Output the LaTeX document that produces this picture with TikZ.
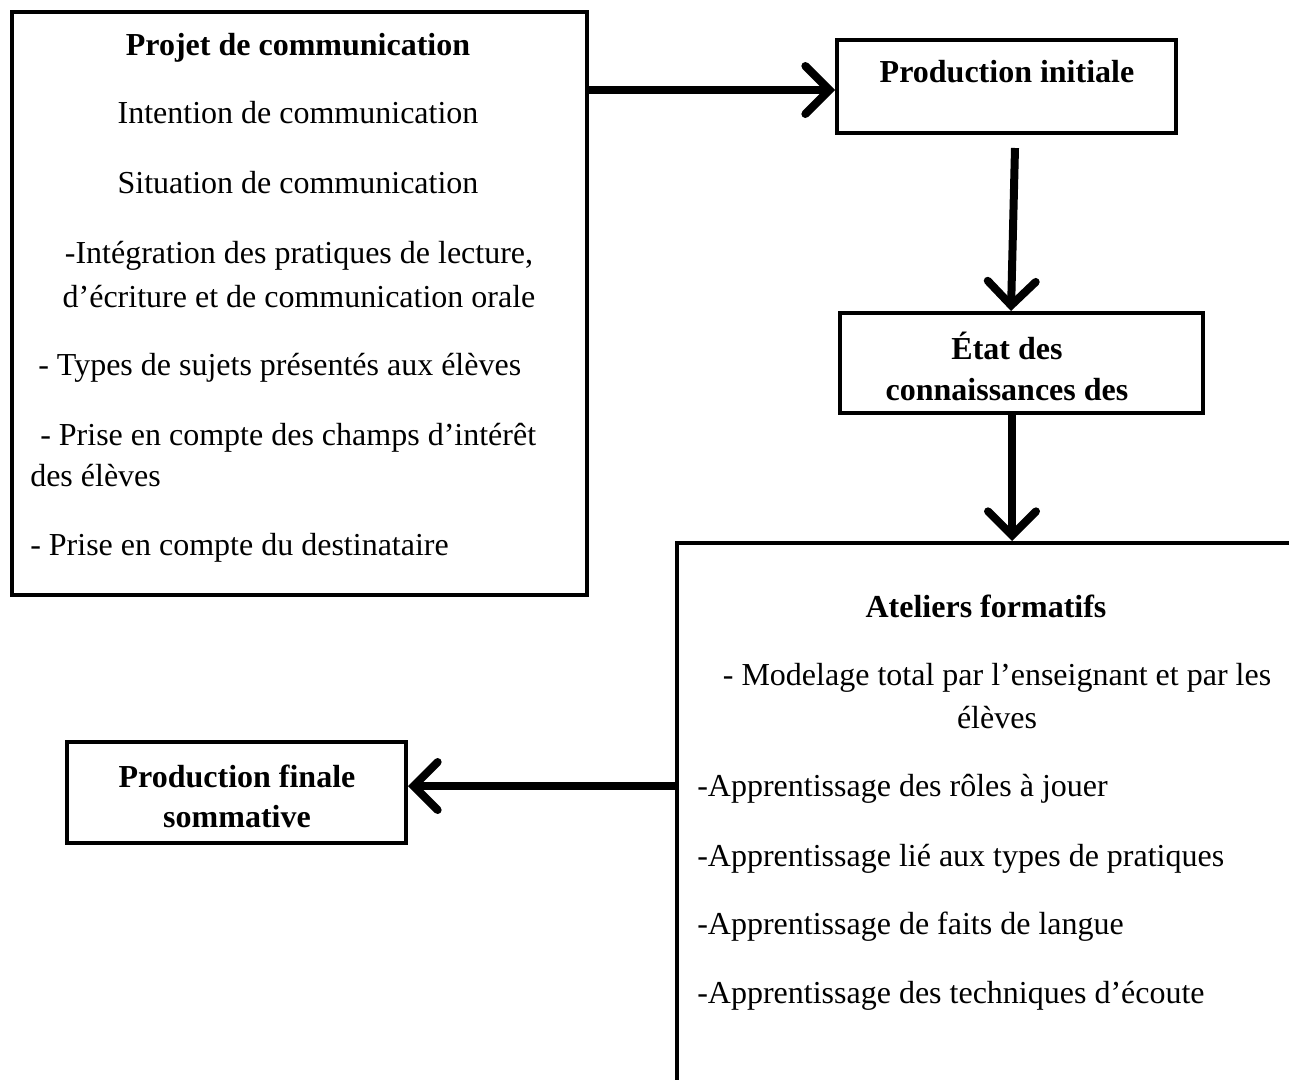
\documentclass[tikz,border=0pt]{standalone}
\usepackage{fontspec}
\setmainfont{Liberation Serif}
\usetikzlibrary{arrows.meta}
\begin{document}
\begin{tikzpicture}[x=0.75pt,y=-0.75pt,
  box/.style={draw, line width=3pt, rectangle, inner sep=0pt},
  txt/.style={inner sep=0pt, font=\fontsize{24}{28}\selectfont},
  btxt/.style={inner sep=0pt, font=\fontsize{24}{28}\selectfont\bfseries},
  arr/.style={line width=6pt, -{Straight Barb[length=18pt,width=36pt,line width=6pt,line cap=round]}}
]
\useasboundingbox (0,0) rectangle (1289,1079);
\clip (0,0) rectangle (1289,1079);
% boxes
\node[box, minimum width=431.25pt, minimum height=437.25pt] (b1) at (299.5,303.5) {};
\node[box, minimum width=254.25pt, minimum height=69.75pt] (b2) at (1006.5,86.5) {};
\node[box, minimum width=272.25pt, minimum height=75pt] (b3) at (1021.5,363) {};
\node[box, minimum width=467.25pt, minimum height=414pt] (b4) at (988.5,819) {};
\node[box, minimum width=254.25pt, minimum height=75.75pt] (b5) at (236.5,792.5) {};
% texts box 1
\node[btxt, anchor=base] (t1) at (298,55) {Projet de communication};
\node[txt, anchor=base] (t2) at (298,123) {Intention de communication};
\node[txt, anchor=base] (t3) at (298,193) {Situation de communication};
\node[txt, anchor=base] (t4) at (299,263) {-Intégration des pratiques de lecture,};
\node[txt, anchor=base] (t5) at (299,307) {d’écriture et de communication orale};
\node[txt, anchor=base west] (t6) at (38,375) {- Types de sujets présentés aux élèves};
\node[txt, anchor=base west] (t7) at (40,445) {- Prise en compte des champs d’intérêt};
\node[txt, anchor=base west] (t8) at (30,486) {des élèves};
\node[txt, anchor=base west] (t9) at (30,555) {- Prise en compte du destinataire};
% box 2, 3
\node[btxt, anchor=base] (t10) at (1007,82) {Production initiale};
\node[btxt, anchor=base] (t11) at (1007,359) {État des};
\node[btxt, anchor=base] (t12) at (1007,400) {connaissances des};
% box 4
\node[btxt, anchor=base] (t13) at (986,617) {Ateliers formatifs};
\node[txt, anchor=base] (t14) at (997,685) {- Modelage total par l’enseignant et par les};
\node[txt, anchor=base] (t15) at (997,728) {élèves};
\node[txt, anchor=base west] (t16) at (697,796) {-Apprentissage des rôles à jouer};
\node[txt, anchor=base west] (t17) at (697,866) {-Apprentissage lié aux types de pratiques};
\node[txt, anchor=base west] (t18) at (697,934) {-Apprentissage de faits de langue};
\node[txt, anchor=base west] (t19) at (697,1003) {-Apprentissage des techniques d’écoute};
% box 5
\node[btxt, anchor=base] (t20) at (237,787) {Production finale};
\node[btxt, anchor=base] (t21) at (237,827) {sommative};
% arrows
\coordinate (y1) at (0,90);
\coordinate (a2s) at (1015,148);
\coordinate (x2) at (1011,0);
\coordinate (x3) at (1012,0);
\coordinate (y4) at (0,786);
\draw[arr] (b1.east |- y1) -- (b2.west |- y1);
\draw[arr] (a2s) -- (b3.north -| x2);
\draw[arr] (b3.south -| x3) -- (b4.north -| x3);
\draw[arr] (b4.west |- y4) -- (b5.east |- y4);
\end{tikzpicture}
\end{document}
